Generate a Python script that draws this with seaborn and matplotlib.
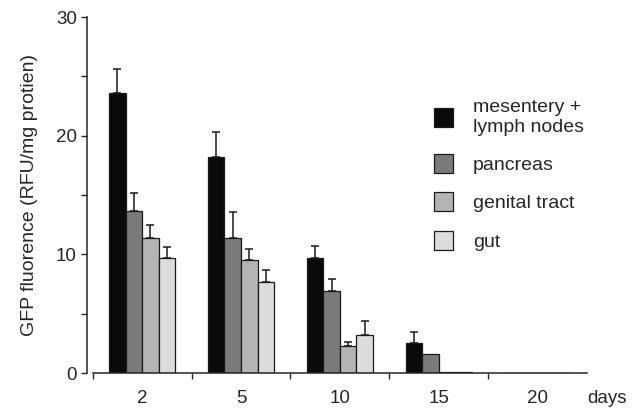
import matplotlib
matplotlib.use("Agg")
import matplotlib.pyplot as plt
import pandas as pd
import seaborn as sns

days = ["2", "5", "10", "15", "20"]
tissues = ["mesentery +\nlymph nodes", "pancreas", "genital tract", "gut"]
colors = ["#0a0a0a", "#7a7a7a", "#b4b4b4", "#dcdcdc"]

mesentery = [23.6, 18.2, 9.7, 2.5, 0.0]
pancreas = [13.7, 11.4, 6.9, 1.65, 0.0]
genital = [11.4, 9.5, 2.3, 0.1, 0.0]
gut = [9.7, 7.7, 3.2, 0.1, 0.0]

mesentery_err = [2.0, 2.1, 1.0, 1.0, 0.0]
pancreas_err = [1.5, 2.2, 1.0, 0.0, 0.0]
genital_err = [1.1, 1.0, 0.3, 0.0, 0.0]
gut_err = [0.9, 1.0, 1.2, 0.0, 0.0]

values = [mesentery, pancreas, genital, gut]
errors = [mesentery_err, pancreas_err, genital_err, gut_err]

rows = []
for tissue, vals in zip(tissues, values):
    for d, v in zip(days, vals):
        rows.append({"day": d, "tissue": tissue, "value": v})
df = pd.DataFrame(rows)

sns.set_style("ticks")
plt.rcParams["font.family"] = ["Liberation Sans", "DejaVu Sans"]

fig = plt.figure(figsize=(6.4, 4.16), dpi=100)
ax = fig.add_axes([0.145, 0.103, 0.772, 0.856])

sns.barplot(data=df, x="day", y="value", hue="tissue", order=days,
            hue_order=tissues, palette=colors, width=0.67, gap=0,
            edgecolor="#1a1a1a", linewidth=0.9, errorbar=None, ax=ax)

# upward-only error bars
for cont, err in zip(ax.containers, errors):
    for bar, e in zip(cont.patches, err):
        if e <= 0:
            continue
        x = bar.get_x() + bar.get_width() / 2
        h = bar.get_height()
        ax.errorbar(x, h, yerr=[[0], [e]], fmt="none", ecolor="#1a1a1a",
                    elinewidth=1.1, capsize=2.8, capthick=1.1)

ax.set_xlim(-0.5, 4.5)
ax.set_ylim(0, 30)
ax.set_yticks([0, 10, 20, 30])
ax.set_yticks([5, 15, 25], minor=True)
ax.tick_params(axis="y", which="both", labelsize=13.5, length=4, width=1,
               direction="out", pad=3)

ax.set_xticks(range(len(days)))
ax.set_xticklabels(days)
ax.set_xticks([-0.5, 0.5, 1.5, 2.5, 3.5], minor=True)
ax.tick_params(axis="x", which="major", length=0, labelsize=13.5, pad=12)
ax.tick_params(axis="x", which="minor", length=4, width=1, direction="out")

for side in ["top", "right"]:
    ax.spines[side].set_visible(False)
for side in ["left", "bottom"]:
    ax.spines[side].set_linewidth(1.1)
ax.spines["left"].set_position(("outward", 4.5))

ax.set_xlabel("")
ax.set_ylabel("GFP fluorence (RFU/mg protien)", fontsize=14, labelpad=13)

fig.text(0.948, 0.043, "days", fontsize=13.5, ha="center", va="center")

handles, labels = ax.get_legend_handles_labels()
ax.legend(handles, labels, loc="upper left", bbox_to_anchor=(0.678, 0.762),
          bbox_transform=fig.transFigure, borderaxespad=0, borderpad=0,
          frameon=False, fontsize=14, handlelength=1.0, handleheight=1.1,
          handletextpad=1.0, labelspacing=0.95)

fig.savefig("out.png", dpi=100)
